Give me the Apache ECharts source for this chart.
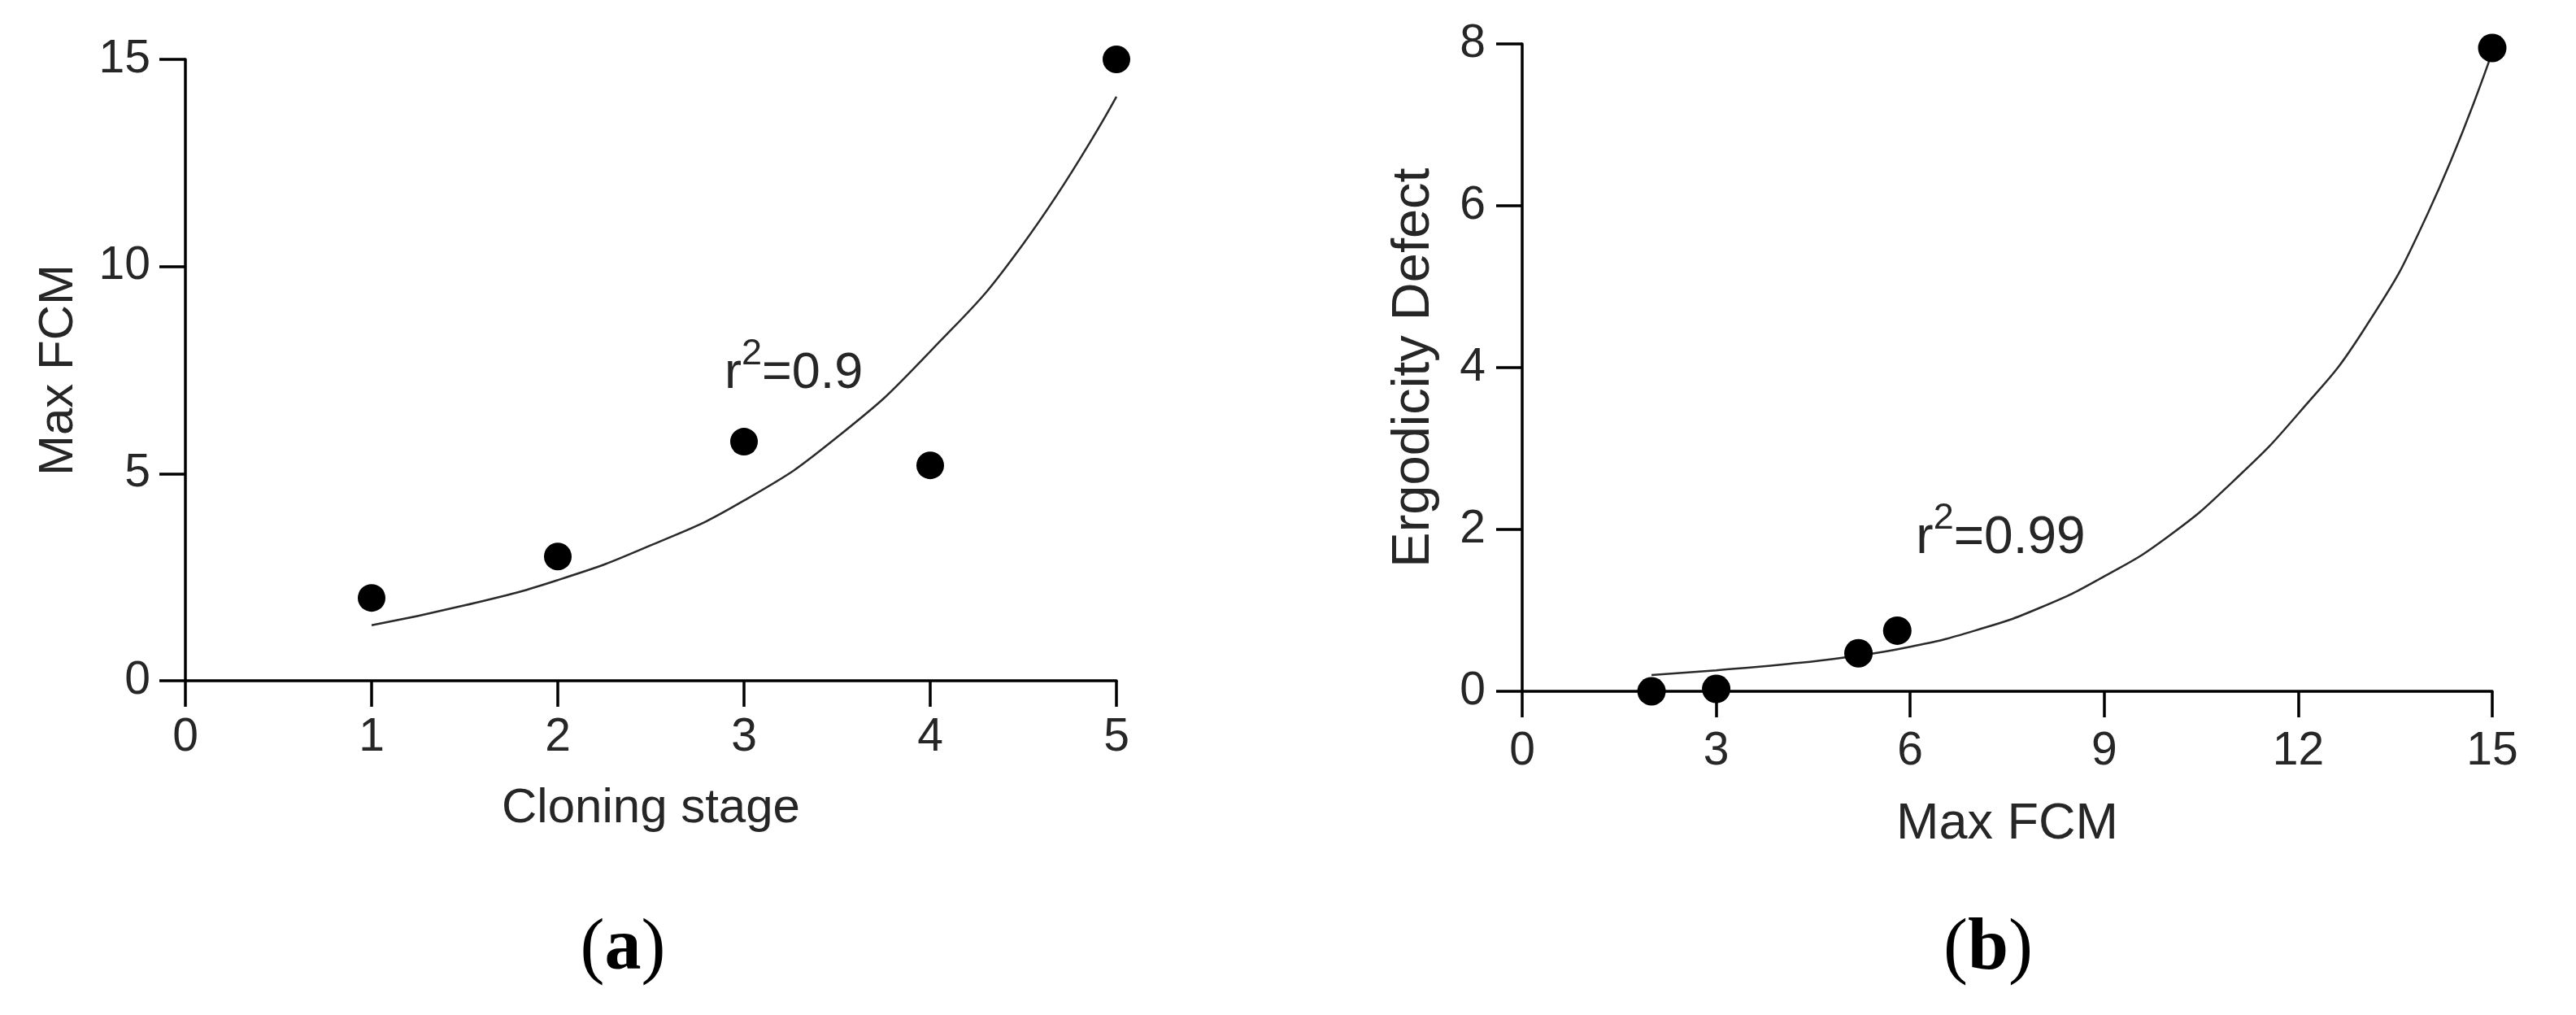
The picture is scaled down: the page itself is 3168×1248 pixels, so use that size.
<!DOCTYPE html>
<html>
<head>
<meta charset="utf-8">
<script src="https://cdn.jsdelivr.net/npm/echarts@6/dist/echarts.min.js"></script>
<style>
html,body{margin:0;padding:0;background:#fff;}
#chart{width:3168px;height:1248px;}
</style>
</head>
<body>
<div id="chart"></div>
<script>
// ---------- Panel (a) data ----------
const aPointsX = [1, 2, 3, 4, 5];
const aPointsY = [2.0, 3.0, 5.77, 5.2, 15.0];
const aCurveX = [1, 1.5, 2, 2.5, 3, 3.5, 4, 4.5, 5];
const aCurveY = [1.34, 1.82, 2.43, 3.27, 4.35, 5.88, 7.95, 10.55, 14.1];
const aXTicks = [0, 1, 2, 3, 4, 5];
const aYTicks = [0, 5, 10, 15];
const aXTitle = 'Cloning stage';
const aYTitle = 'Max FCM';
const aR2Text = '=0.9';
const aR2Pos = [2.895, 7.40];

// ---------- Panel (b) data ----------
const bPointsX = [2, 3, 5.2, 5.8, 15];
const bPointsY = [0.0, 0.03, 0.47, 0.75, 7.95];
const bCurveX = [2, 3, 4, 5, 6, 7, 8, 9, 10, 11, 12, 13, 14, 15];
const bCurveY = [0.2, 0.26, 0.33, 0.42, 0.55, 0.75, 1.03, 1.42, 1.92, 2.6, 3.43, 4.45, 5.9, 7.9];
const bXTicks = [0, 3, 6, 9, 12, 15];
const bYTicks = [0, 2, 4, 6, 8];
const bXTitle = 'Max FCM';
const bYTitle = 'Ergodicity Defect';
const bR2Text = '=0.99';
const bR2Pos = [6.09, 1.89];

const panelLabels = ['a', 'b'];

// ---------- helpers ----------
const FONT = 'Liberation Sans, Arial, sans-serif';
const TEXT_COLOR = '#262626';
const zip = (xs, ys) => xs.map((x, i) => [x, ys[i]]);

const measureCtx = document.createElement('canvas').getContext('2d');
function textWidth(t, size) {
  measureCtx.font = size + 'px "Liberation Sans", Arial, sans-serif';
  return measureCtx.measureText(t).width;
}

function makeAxis(ticks, gridIndex, isX, labelMargin, nameText, nameGap, nameSize) {
  const interval = ticks[1] - ticks[0];
  return {
    type: 'value',
    gridIndex: gridIndex,
    min: ticks[0],
    max: ticks[ticks.length - 1],
    interval: interval,
    position: isX ? 'bottom' : 'left',
    name: nameText,
    nameLocation: 'middle',
    nameGap: nameGap,
    nameTextStyle: { fontFamily: FONT, fontSize: nameSize, color: TEXT_COLOR },
    axisLine: { show: true, onZero: false, lineStyle: { color: '#000', width: 3.5 } },
    axisTick: { show: true, inside: false, length: 32, lineStyle: { color: '#000', width: 3.5 } },
    axisLabel: { show: true, margin: labelMargin, fontFamily: FONT, fontSize: 57, color: TEXT_COLOR },
    splitLine: { show: false }
  };
}

const chart = echarts.init(document.getElementById('chart'), null, { renderer: 'canvas' });

const option = {
  backgroundColor: '#fff',
  animation: false,
  grid: [
    { left: 228, top: 73, width: 1145, height: 764 },
    { left: 1872, top: 54, width: 1193, height: 796 }
  ],
  xAxis: [
    makeAxis(aXTicks, 0, true, 42, aXTitle, 127, 60),
    makeAxis(bXTicks, 1, true, 46, bXTitle, 132, 63)
  ],
  yAxis: [
    makeAxis(aYTicks, 0, false, 43, aYTitle, 126, 60),
    makeAxis(bYTicks, 1, false, 45, bYTitle, 100, 65)
  ],
  series: [
    {
      type: 'line', xAxisIndex: 0, yAxisIndex: 0,
      data: zip(aCurveX, aCurveY), smooth: true, showSymbol: false,
      lineStyle: { color: '#2a2a2a', width: 2.5 }, z: 2
    },
    {
      type: 'scatter', xAxisIndex: 0, yAxisIndex: 0,
      data: zip(aPointsX, aPointsY), symbol: 'circle', symbolSize: 34,
      itemStyle: { color: '#000', opacity: 1 }, clip: false, z: 3
    },
    {
      type: 'line', xAxisIndex: 1, yAxisIndex: 1,
      data: zip(bCurveX, bCurveY), smooth: true, showSymbol: false,
      lineStyle: { color: '#2a2a2a', width: 2.5 }, z: 2
    },
    {
      type: 'scatter', xAxisIndex: 1, yAxisIndex: 1,
      data: zip(bPointsX, bPointsY), symbol: 'circle', symbolSize: 35,
      itemStyle: { color: '#000', opacity: 1 }, clip: false, z: 3
    }
  ]
};
chart.setOption(option);

// r^2 annotation: anchored at left edge / vertical middle of the main text
function r2Graphic(pos, gridIndex, value, size, supSize, supRise) {
  const p = chart.convertToPixel({ gridIndex: gridIndex }, pos);
  const wr = textWidth('r', size);
  const ws = textWidth('2', supSize);
  const common = { fontFamily: FONT, fill: TEXT_COLOR, textAlign: 'left', textVerticalAlign: 'middle' };
  return {
    type: 'group', x: p[0], y: p[1], z: 10,
    children: [
      { type: 'text', x: 0, y: 0, style: Object.assign({ text: 'r', fontSize: size }, common) },
      { type: 'text', x: wr, y: -supRise, style: Object.assign({ text: '2', fontSize: supSize }, common) },
      { type: 'text', x: wr + ws, y: 0, style: Object.assign({ text: value, fontSize: size }, common) }
    ]
  };
}

function panelGraphic(letter, cx, cy) {
  return {
    type: 'text', x: cx, y: cy, z: 10,
    style: {
      text: '{n|(}{l|' + letter + '}{n|)}',
      textAlign: 'center', textVerticalAlign: 'middle',
      rich: {
        n: { fontFamily: 'Liberation Serif, Times New Roman, serif', fontSize: 90, color: '#000' },
        l: { fontFamily: 'Liberation Serif, Times New Roman, serif', fontSize: 90, fontWeight: 'bold', color: '#000' }
      }
    }
  };
}

chart.setOption({
  graphic: [
    r2Graphic(aR2Pos, 0, aR2Text, 63, 45, 24),
    r2Graphic(bR2Pos, 1, bR2Text, 64, 45, 24),
    panelGraphic(panelLabels[0], 766, 1168),
    panelGraphic(panelLabels[1], 2445, 1168)
  ]
});
</script>
</body>
</html>
